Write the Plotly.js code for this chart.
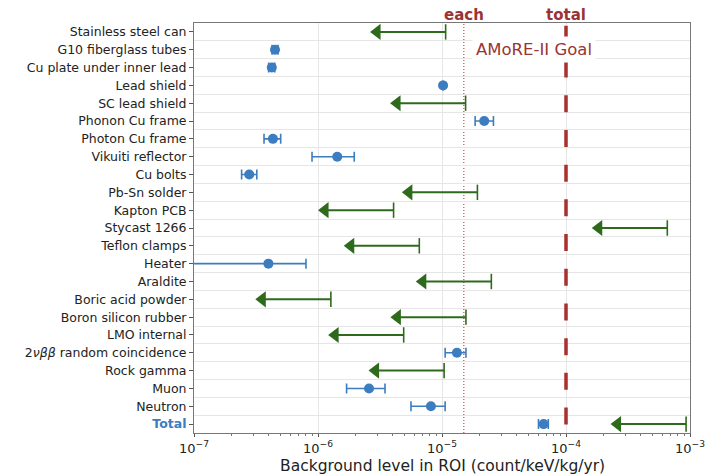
<!DOCTYPE html>
<html><head><meta charset="utf-8">
<script src="https://cdn.plot.ly/plotly-3.0.1.min.js"></script>
<style>html,body{margin:0;padding:0;background:#fff}#chart{width:707px;height:475px}</style>
</head><body><div id="chart"></div>
<script>
// Categories (top to bottom)
var categories = ["Stainless steel can","G10 fiberglass tubes","Cu plate under inner lead","Lead shield","SC lead shield","Phonon Cu frame","Photon Cu frame","Vikuiti reflector","Cu bolts","Pb-Sn solder","Kapton PCB","Stycast 1266","Teflon clamps","Heater","Araldite","Boric acid powder","Boron silicon rubber","LMO internal","2νββ random coincidence","Rock gamma","Muon","Neutron","Total"];
// Measured central values (null = only upper limit)
var measured = [null,4.5e-7,4.24e-7,1.02e-5,null,2.19e-5,4.33e-7,1.43e-6,2.79e-7,null,null,null,null,3.98e-7,null,null,null,null,1.32e-5,null,2.58e-6,8.14e-6,6.6e-5];
var measuredLow = [null,4.26e-7,4.0e-7,1.02e-5,null,1.85e-5,3.67e-7,8.95e-7,2.42e-7,null,null,null,null,1e-9,null,null,null,null,1.06e-5,null,1.70e-6,5.62e-6,6.0e-5];
var measuredHigh = [null,4.76e-7,4.48e-7,1.02e-5,null,2.6e-5,5.0e-7,1.96e-6,3.21e-7,null,null,null,null,8.0e-7,null,null,null,null,1.56e-5,null,3.47e-6,1.06e-5,7.2e-5];
// Upper limits (null = no limit)
var upperLimit = [1.07e-5,null,null,null,1.55e-5,null,null,null,null,1.93e-5,4.07e-6,6.56e-4,6.56e-6,null,2.50e-5,1.27e-6,1.56e-5,4.91e-6,null,1.04e-5,null,null,9.3e-4];
var goalEach = 1.5e-5, goalTotal = 1e-4;
var xTickVals = [1e-7,1e-6,1e-5,1e-4,1e-3];
var xTickText = ["10<sup>−7</sup>","10<sup>−6</sup>","10<sup>−5</sup>","10<sup>−4</sup>","10<sup>−3</sup>"];

var BLUE = "#3b7dbf", GREEN = "#2e6a1c", RED = "#a8302f", TXTRED = "#9a3434";
var ARROW = 0.28; // arrow head position relative to limit (style)

var idx = categories.map(function(_, i){ return i; });
var minorVals = [];
for (var e=-7; e<-3; e++) for (var k=2; k<10; k++) minorVals.push(k*Math.pow(10,e));

var mx=[], my=[], ep=[], em=[];
measured.forEach(function(v,i){ if(v!==null){ mx.push(v); my.push(i); ep.push(measuredHigh[i]-v); em.push(v-measuredLow[i]); }});
var lx=[], ly=[], capx=[], capy=[], hx=[], hy=[];
upperLimit.forEach(function(v,i){ if(v!==null){ lx.push(v, v*ARROW, null); ly.push(i, i, null); capx.push(v); capy.push(i); hx.push(v*ARROW); hy.push(i); }});

var ticktext = categories.map(function(c){
  if(c==="Total") return "<b><span style='color:"+BLUE+"'>Total</span></b>";
  if(c.indexOf("2νββ")===0) return "2<i>νββ</i> random coincidence";
  return c;
});

var traces = [
  {x:lx, y:ly, mode:"lines", line:{color:GREEN, width:2}, hoverinfo:"skip", showlegend:false},
  {x:capx, y:capy, mode:"markers", marker:{symbol:"line-ns", size:11, line:{color:GREEN, width:1.6}}, showlegend:false},
  {x:hx, y:hy, mode:"markers", marker:{symbol:"triangle-left", size:14, color:GREEN}, showlegend:false},
  {x:mx, y:my, mode:"markers", marker:{symbol:"circle", size:10, color:BLUE},
   error_x:{type:"data", symmetric:false, array:ep, arrayminus:em, color:BLUE, thickness:1.6, width:5}, showlegend:false}
];

var layout = {
  width:707, height:475,
  margin:{l:194, r:17, t:23, b:42},
  paper_bgcolor:"#fff", plot_bgcolor:"#fff",
  font:{family:"DejaVu Sans", size:12.5, color:"#222"},
  showlegend:false,
  xaxis:{type:"log", range:[-7,-3], tickmode:"array", tickvals:xTickVals, ticktext:xTickText,
    showgrid:true, gridcolor:"#e6e6e6", gridwidth:1, ticks:"outside", ticklen:3, tickcolor:"#555",
    minor:{tickmode:"array", tickvals:minorVals, ticks:"outside", ticklen:2, tickcolor:"#777", showgrid:false},
    showline:true, linecolor:"#777", linewidth:1, mirror:true, zeroline:false,
    tickfont:{size:13, family:"DejaVu Sans", color:"#222"}},
  yaxis:{range:[22.5,-0.5], tickmode:"array", tickvals:idx, ticktext:ticktext, showgrid:false,
    minor:{tick0:0.5, dtick:1, showgrid:true, gridcolor:"#e6e6e6", gridwidth:1, ticks:""},
    ticks:"outside", ticklen:4, tickcolor:"#555", zeroline:false,
    showline:true, linecolor:"#777", linewidth:1, mirror:true,
    tickfont:{size:12.5, family:"DejaVu Sans", color:"#222"}},
  shapes:[
    {type:"line", xref:"x", yref:"paper", x0:goalEach, x1:goalEach, y0:0, y1:1, line:{color:RED, width:1, dash:"1px,2px"}, layer:"below"},
    {type:"line", xref:"x", yref:"paper", x0:goalTotal, x1:goalTotal, y0:0.993, y1:0, line:{color:RED, width:3.5, dash:"17px,17.7px"}, layer:"above"}
  ],
  annotations:[
    {xref:"x", yref:"paper", x:Math.log10(goalEach), y:1, yanchor:"bottom", xanchor:"center", showarrow:false, text:"<b>each</b>", font:{size:15, color:TXTRED, family:"DejaVu Sans"}, yshift:-3},
    {xref:"x", yref:"paper", x:Math.log10(goalTotal), y:1, yanchor:"bottom", xanchor:"center", showarrow:false, text:"<b>total</b>", font:{size:15, color:TXTRED, family:"DejaVu Sans"}, yshift:-3},
    {xref:"x", yref:"y", x:Math.log10(1.73e-5), y:1, xanchor:"left", yanchor:"middle", showarrow:false, text:"AMoRE-II Goal", font:{size:16.5, color:TXTRED, family:"DejaVu Sans"}, bgcolor:"#ffffff", borderpad:3},
    {xref:"paper", yref:"paper", x:0.5, y:0, yshift:-33, xanchor:"center", yanchor:"middle", showarrow:false, text:"Background level in ROI (count/keV/kg/yr)", font:{size:15.5, family:"DejaVu Sans", color:"#222"}}
  ]
};
Plotly.newPlot("chart", traces, layout, {displayModeBar:false, staticPlot:true});
</script></body></html>
